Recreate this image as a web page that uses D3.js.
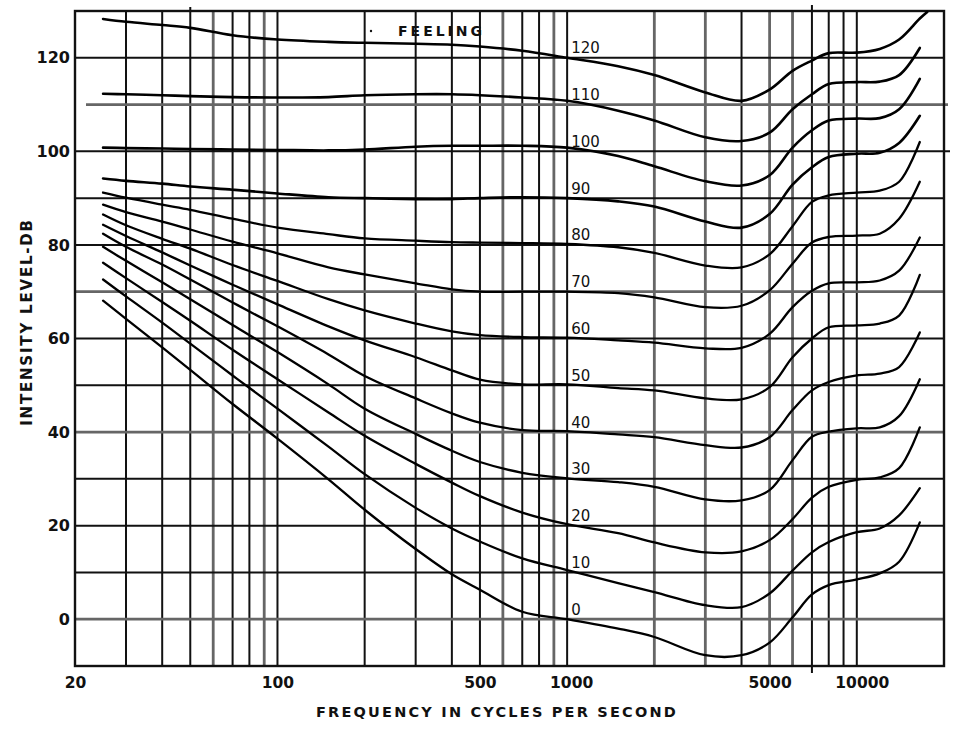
<!DOCTYPE html>
<html>
<head>
<meta charset="utf-8">
<script src="https://cdn.jsdelivr.net/npm/d3@7"></script>
<style>
  html, body { margin: 0; padding: 0; background: #fff; }
  svg { display: block; }
  text { font-family: "DejaVu Sans", sans-serif; fill: #111; }
</style>
</head>
<body>
<svg id="chart" width="962" height="729"></svg>
<script>
const freqs = [25, 30, 40, 50, 70, 100, 150, 200, 300, 400, 500, 700, 1000,
  1500, 2000, 3000, 4000, 5000, 6000, 7000, 8000, 10000, 12000, 14000, 16500, 17500];

// intensity level (dB) of each loudness contour, one value per frequency above
const phon120 = [128.3, 127.7, 127.0, 126.4, 124.8, 123.9, 123.4, 123.2, 123.0, 122.8, 122.4, 121.5, 120.0,
  118.2, 116.3, 112.6, 110.8, 113.2, 117.2, 119.4, 121.0, 121.1, 121.9, 123.9, 128.4, 129.8];
const phon110 = [112.3, 112.2, 112.0, 111.8, 111.6, 111.5, 111.6, 112.0, 112.2, 112.2, 112.0, 111.5, 110.8,
  108.7, 106.6, 103.0, 102.2, 104.0, 109.0, 112.2, 114.4, 114.8, 114.9, 116.3, 122.1, null];
const phon100 = [100.8, 100.7, 100.6, 100.5, 100.4, 100.3, 100.2, 100.4, 101.0, 101.2, 101.2, 101.2, 100.8,
  99.0, 96.8, 93.6, 92.7, 94.9, 100.8, 104.5, 106.6, 107.0, 107.1, 109.0, 115.5, null];
const phon90 = [94.2, 93.7, 93.1, 92.5, 91.8, 91.0, 90.2, 90.0, 89.8, 89.8, 90.0, 90.2, 90.0,
  89.3, 88.2, 85.0, 83.7, 86.6, 92.9, 96.6, 98.8, 99.5, 99.7, 101.8, 107.6, null];
const phon80 = [91.2, 90.1, 88.6, 87.5, 85.6, 83.7, 82.3, 81.4, 80.9, 80.6, 80.5, 80.4, 80.2,
  79.5, 78.3, 75.6, 75.2, 78.0, 84.0, 89.2, 90.6, 91.2, 91.6, 93.5, 102.0, null];
const phon70 = [88.6, 87.0, 85.0, 83.3, 80.7, 78.2, 75.2, 73.7, 71.8, 70.5, 70.0, 70.0, 70.0,
  69.7, 68.8, 66.7, 67.0, 70.3, 76.0, 80.5, 81.7, 82.0, 82.4, 85.6, 93.5, null];
const phon60 = [86.5, 84.2, 81.3, 79.2, 75.7, 72.3, 68.4, 66.0, 63.2, 61.5, 60.7, 60.3, 60.2,
  59.6, 59.1, 57.9, 58.0, 61.0, 66.7, 70.2, 71.8, 72.0, 72.4, 74.5, 81.6, null];
const phon50 = [84.3, 81.9, 78.4, 75.6, 71.5, 67.3, 62.6, 59.6, 56.0, 53.2, 51.2, 50.2, 50.2,
  49.4, 48.9, 47.2, 47.0, 49.6, 56.0, 60.0, 62.4, 62.8, 63.2, 64.9, 73.6, null];
const phon40 = [82.4, 79.6, 75.8, 72.6, 67.7, 62.6, 56.6, 52.0, 47.2, 44.0, 42.0, 40.4, 40.2,
  39.5, 38.9, 37.2, 36.7, 38.9, 44.7, 48.9, 50.7, 52.1, 52.5, 53.9, 61.3, null];
const phon30 = [79.6, 76.6, 72.0, 68.4, 62.9, 57.1, 50.2, 45.0, 39.6, 36.0, 33.6, 31.3, 30.1,
  29.3, 28.3, 25.6, 25.4, 27.6, 34.0, 39.0, 40.1, 40.8, 41.0, 43.4, 51.3, null];
const phon20 = [76.2, 72.9, 67.8, 63.8, 57.6, 51.3, 44.2, 39.2, 33.2, 29.2, 26.3, 22.8, 20.3,
  18.4, 16.4, 14.3, 14.5, 16.9, 21.4, 26.0, 28.3, 29.8, 30.3, 32.3, 41.0, null];
const phon10 = [72.6, 69.0, 63.4, 58.9, 52.1, 45.0, 36.9, 31.0, 23.8, 19.4, 16.6, 13.0, 10.5,
  7.7, 5.8, 3.0, 2.6, 5.5, 10.4, 14.3, 16.5, 18.6, 19.4, 22.2, 28.0, null];
const phon0 = [68.1, 64.2, 58.1, 53.3, 46.0, 38.6, 29.9, 23.4, 15.0, 9.6, 6.3, 1.6, 0.0,
  -2.0, -3.8, -7.7, -7.7, -5.0, 0.4, 5.3, 7.3, 8.5, 9.8, 12.3, 20.7, null];

const levels = [120, 110, 100, 90, 80, 70, 60, 50, 40, 30, 20, 10, 0];
const contours = [phon120, phon110, phon100, phon90, phon80, phon70, phon60,
  phon50, phon40, phon30, phon20, phon10, phon0];

const xTicks = [20, 100, 500, 1000, 5000, 10000];
const yTicks = [0, 20, 40, 60, 80, 100, 120];
const gridFreqs = [30, 40, 50, 60, 70, 80, 90, 100, 200, 300, 400, 500, 600, 700, 800, 900,
  1000, 2000, 3000, 4000, 5000, 6000, 7000, 8000, 9000, 10000];
const grayFreqs = [60, 90, 600, 900, 2000, 3000, 5000, 6000];
const gridDb = [0, 10, 20, 30, 40, 50, 60, 70, 80, 90, 100, 110, 120];
const grayDb = [0, 40, 70, 110];

const svg = d3.select("#chart");
const x = d3.scaleLog().domain([20, 20000]).range([75, 944]);
const y = d3.scaleLinear().domain([-10, 130]).range([666, 11]);

let grid = svg.append("g").attr("class", "grid");

// vertical grid (a couple of them poke out past the frame in the scan)
grid.selectAll("line.v")
  .data(gridFreqs)
  .enter().append("line")
  .attr("class", "v")
  .attr("x1", (d) => x(d))
  .attr("x2", (d) => x(d))
  .attr("y1", (d) => (d === 7000 ? y(130) - 6 : d === 50 ? y(130) - 4 : y(130)))
  .attr("y2", (d) => (d === 7000 ? y(-10) + 7 : y(-10)))
  .attr("stroke", (d) => (grayFreqs.includes(d) ? "#666" : "#111"))
  .attr("stroke-width", (d) => (grayFreqs.includes(d) ? 2.8 : 2));

grid.selectAll("line.h")
  .data(gridDb)
  .enter().append("line")
  .attr("class", "h")
  .attr("x1", (d) => (d === 110 ? x(20) + 11 : x(20)))
  .attr("x2", (d) => (d === 100 ? x(20000) + 6 : d === 110 ? x(20000) + 4 : x(20000)))
  .attr("y1", (d) => y(d))
  .attr("y2", (d) => y(d))
  .attr("stroke", (d) => (grayDb.includes(d) ? "#666" : "#111"))
  .attr("stroke-width", (d) => (grayDb.includes(d) ? 2.8 : 2));

// frame
svg.append("rect")
  .attr("x", x(20))
  .attr("y", y(130))
  .attr("width", x(20000) - x(20))
  .attr("height", y(-10) - y(130))
  .attr("fill", "none")
  .attr("stroke", "#111")
  .attr("stroke-width", 2.4);

// loudness contours
const line = d3.line()
  .defined((d) => d[1] != null)
  .x((d) => x(d[0]))
  .y((d) => y(d[1]))
  .curve(d3.curveCatmullRom.alpha(0.5));

svg.append("g")
  .selectAll("path")
  .data(contours)
  .enter().append("path")
  .attr("d", (vals) => line(freqs.map((f, i) => [f, vals[i]])))
  .attr("fill", "none")
  .attr("stroke", "#000")
  .attr("stroke-width", (vals, i) => (i < 4 ? 2.6 : 2.3))
  .attr("stroke-linejoin", "round")
  .attr("stroke-linecap", "round");

// contour labels just right of the 1000 c/s line
svg.append("g")
  .selectAll("text")
  .data(levels)
  .enter().append("text")
  .attr("x", x(1000) + 4)
  .attr("y", (d) => y(d) - 4.5)
  .attr("font-size", 15)
  .text((d) => d);

// FEELING
svg.append("circle").attr("cx", 371).attr("cy", 31).attr("r", 1.2).attr("fill", "#111");
svg.append("text")
  .attr("x", 398)
  .attr("y", 36)
  .attr("font-size", 14)
  .attr("font-weight", "bold")
  .attr("letter-spacing", 3)
  .text("FEELING");

// axes
const xAxis = svg.append("g")
  .attr("transform", `translate(0,${y(-10)})`)
  .call(d3.axisBottom(x).tickValues(xTicks).tickFormat(d3.format("d")).tickSize(0).tickPadding(11));
xAxis.select(".domain").remove();
xAxis.attr("font-family", "DejaVu Sans").attr("font-size", 15.5).attr("font-weight", "bold");
xAxis.selectAll("text")
  .attr("dx", (d) => (d === 10000 ? 5 : d === 1000 ? 4 : 0));

const yAxis = svg.append("g")
  .attr("transform", `translate(${x(20)},0)`)
  .call(d3.axisLeft(y).tickValues(yTicks).tickSize(0).tickPadding(5));
yAxis.select(".domain").remove();
yAxis.attr("font-family", "DejaVu Sans").attr("font-size", 16).attr("font-weight", "bold");

svg.append("text")
  .attr("transform", "translate(32,322) rotate(-90)")
  .attr("text-anchor", "middle")
  .attr("font-size", 15)
  .attr("font-weight", "bold")
  .attr("letter-spacing", 1.8)
  .text("INTENSITY LEVEL-DB");

svg.append("text")
  .attr("x", 497)
  .attr("y", 717)
  .attr("text-anchor", "middle")
  .attr("font-size", 14.5)
  .attr("font-weight", "bold")
  .attr("letter-spacing", 2.2)
  .text("FREQUENCY IN CYCLES PER SECOND");
</script>
</body>
</html>
